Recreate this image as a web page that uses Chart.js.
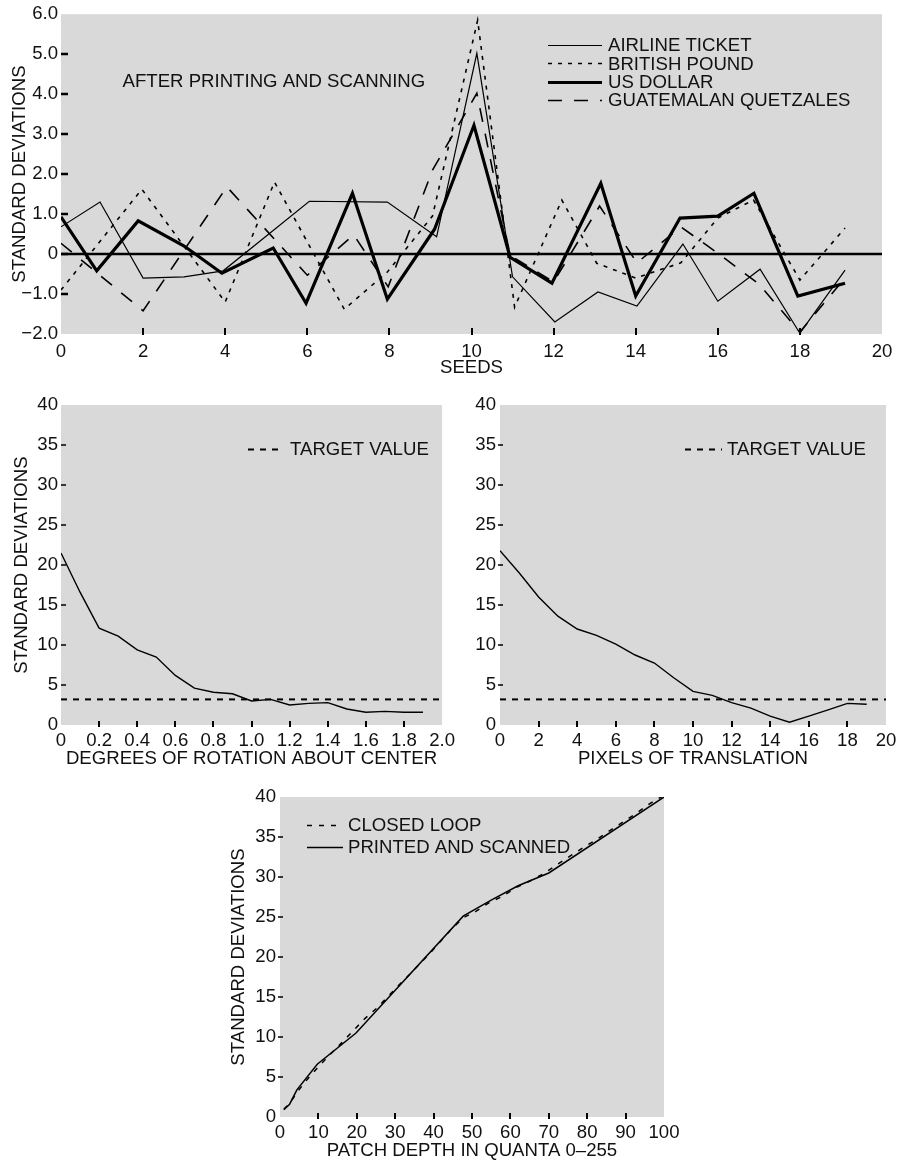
<!DOCTYPE html>
<html>
<head>
<meta charset="utf-8">
<script src="https://cdn.jsdelivr.net/npm/chart.js@4.4.1/dist/chart.umd.min.js"></script>
<style>
  html, body { margin: 0; padding: 0; background: #fff; }
  body { position: relative; width: 903px; height: 1165px; overflow: hidden; }
  canvas { position: absolute; }
</style>
</head>
<body>
<canvas id="seedsChart" width="903" height="380" style="left:0;top:0"></canvas>
<canvas id="rotationChart" width="460" height="390" style="left:0;top:380px"></canvas>
<canvas id="translationChart" width="453" height="390" style="left:450px;top:380px"></canvas>
<canvas id="depthChart" width="500" height="395" style="left:200px;top:770px"></canvas>
<script>
// ---- top chart: seeds, [seed, std dev]
const airlineTicket = [[0,0.68],[0.95,1.3],[2.0,-0.6],[3.0,-0.57],[3.95,-0.42],[6.05,1.32],[7.95,1.3],[9.15,0.43],[10.13,5.02],[11.0,-0.57],[12.03,-1.7],[13.08,-0.95],[14.03,-1.3],[15.15,0.25],[16.0,-1.18],[17.03,-0.38],[18.0,-1.98],[19.1,-0.4]];
const britishPound = [[0,-0.9],[1.97,1.62],[4.0,-1.2],[5.2,1.8],[6.9,-1.38],[7.95,-0.45],[9.05,0.95],[10.15,5.85],[11.05,-1.33],[12.2,1.35],[13.05,-0.23],[14.0,-0.6],[15.1,-0.22],[16.0,0.9],[16.87,1.35],[18.0,-0.65],[19.1,0.65]];
const usDollar = [[0,0.93],[0.87,-0.42],[1.88,0.83],[3.0,0.2],[3.92,-0.48],[5.17,0.15],[5.97,-1.23],[7.1,1.52],[7.95,-1.13],[9.1,0.62],[10.06,3.22],[10.94,-0.08],[11.96,-0.73],[13.15,1.77],[14.0,-1.05],[15.08,0.9],[16.0,0.95],[16.88,1.52],[17.95,-1.05],[19.1,-0.73]];
const guatemalan = [[0,0.27],[2.0,-1.42],[4.04,1.68],[6.0,-0.53],[7.13,0.48],[7.97,-0.82],[9.05,2.1],[10.13,4.02],[10.94,-0.03],[12.0,-0.7],[13.12,1.2],[14.03,-0.22],[15.1,0.68],[16.0,0.02],[17.0,-0.75],[18.0,-1.95],[19.1,-0.6]];
const zeroLine = [[0,0],[20,0]];

// ---- middle charts
const rotationDegrees = [0,0.1,0.2,0.3,0.4,0.5,0.6,0.7,0.8,0.9,1.0,1.1,1.2,1.3,1.4,1.5,1.6,1.7,1.8,1.9];
const rotationStd = [21.5,16.6,12.1,11.1,9.4,8.5,6.2,4.6,4.1,3.9,3.0,3.2,2.5,2.7,2.8,2.0,1.6,1.7,1.6,1.6];
const translationPixels = [0,1,2,3,4,5,6,7,8,9,10,11,12,13,14,15,16,17,18,19];
const translationStd = [21.8,19.0,16.0,13.6,12.0,11.2,10.1,8.75,7.75,5.9,4.2,3.7,2.8,2.1,1.1,0.35,1.1,1.9,2.7,2.6];
const targetValue = 3.2;

// ---- bottom chart: [patch depth, std dev]
const closedLoop = [[1,1.0],[2.4,1.6],[4.6,3.2],[7.1,4.7],[9.5,6.0],[12.6,7.6],[16.1,9.3],[19.1,10.8],[22.1,12.3],[25.2,13.6],[28.0,15.0],[30.8,16.4],[33.7,17.8],[39.1,20.5],[41.7,21.9],[44.7,23.5],[47.7,24.9],[51.0,25.7],[54.5,26.8],[58.0,27.6],[61.5,28.7],[65.1,29.5],[68.6,30.4],[72.0,31.5],[75.5,32.6],[79.0,33.7],[82.5,34.7],[85.9,35.8],[89.4,36.9],[92.9,38.0],[96.4,39.2],[100,40.2]];
const printedScanned = [[1,0.9],[2.5,1.6],[4.4,3.4],[9.7,6.6],[19.8,10.5],[47.7,25.1],[55,27.1],[62,28.9],[70,30.5],[100,40]];

const FONT = '"Liberation Sans", Arial, Helvetica, sans-serif';
const FONT_SIZE = 18.6;
const INK = '#111';
Chart.defaults.font.family = FONT;
Chart.defaults.font.size = FONT_SIZE;
Chart.defaults.color = INK;

const toXY = pairs => pairs.map(p => ({x: p[0], y: p[1]}));
const zip = (xs, ys) => xs.map((x, i) => ({x: x, y: ys[i]}));
const flat = (xs, v) => [{x: xs[0], y: v}, {x: xs[1], y: v}];

function fmtSigned(v) {
    if (v === 0) return '0';
    return (v < 0 ? '\u2212' : '') + Math.abs(v).toFixed(1);
}

function lineSet(label, data, width, dash) {
    return {
        label: label, data: data,
        borderColor: '#000', borderWidth: width, borderDash: dash || [],
        borderCapStyle: 'butt', borderJoinStyle: 'miter',
        pointRadius: 0, tension: 0, fill: false
    };
}

// grey panel, inward ticks, hand-placed legend and note
const panelPlugin = {
    id: 'panel',
    beforeDraw(chart) {
        const {ctx, chartArea: a} = chart;
        ctx.save();
        ctx.fillStyle = '#d9d9d9';
        ctx.fillRect(a.left, a.top, a.width, a.height);
        ctx.restore();
    },
    afterDatasetsDraw(chart, args, opts) {
        const {ctx, chartArea: a} = chart;
        const xs = chart.scales.x, ys = chart.scales.y;
        ctx.save();
        ctx.strokeStyle = '#000';
        ctx.setLineDash([]);
        // x ticks
        ctx.lineWidth = opts.xTickWidth;
        ctx.beginPath();
        xs.ticks.forEach(t => {
            if (t.value <= xs.min + 1e-9 || t.value >= xs.max - 1e-9) return;
            const p = Math.round(xs.getPixelForValue(t.value));
            ctx.moveTo(p, a.bottom + opts.xTickOut);
            ctx.lineTo(p, a.bottom - opts.xTickIn);
        });
        ctx.stroke();
        // y ticks
        ctx.lineWidth = opts.yTickWidth;
        ctx.beginPath();
        ys.ticks.forEach(t => {
            if (t.value <= ys.min + 1e-9 || t.value >= ys.max - 1e-9) return;
            const p = Math.round(ys.getPixelForValue(t.value));
            ctx.moveTo(a.left - opts.yTickOut, p);
            ctx.lineTo(a.left + opts.yTickIn, p);
        });
        ctx.stroke();

        // legend
        const lg = opts.legend;
        if (lg) {
            ctx.font = FONT_SIZE + 'px ' + FONT;
            ctx.textBaseline = 'middle';
            ctx.textAlign = 'left';
            lg.items.forEach((idx, row) => {
                const ds = chart.data.datasets[idx];
                const y = a.top + lg.dy + row * lg.gap;
                const x0 = a.left + lg.dx;
                ctx.lineWidth = ds.borderWidth;
                ctx.setLineDash(ds.borderDash || []);
                ctx.beginPath();
                ctx.moveTo(x0, Math.round(y) + 0.5);
                ctx.lineTo(x0 + lg.len, Math.round(y) + 0.5);
                ctx.stroke();
                ctx.setLineDash([]);
                ctx.fillStyle = INK;
                ctx.fillText(ds.label, x0 + lg.len + lg.textGap, y + 1);
            });
        }
        // free text note
        if (opts.note) {
            ctx.font = FONT_SIZE + 'px ' + FONT;
            ctx.textBaseline = 'middle';
            ctx.textAlign = 'left';
            ctx.fillStyle = INK;
            ctx.fillText(opts.note.text, xs.getPixelForValue(opts.note.x), ys.getPixelForValue(opts.note.y));
        }
        ctx.restore();
    }
};

function axisX(min, max, step, title, height, fmt, tickPad, titlePadBottom) {
    return {
        type: 'linear', min: min, max: max,
        ticks: { stepSize: step, padding: tickPad, autoSkip: false, maxRotation: 0, color: INK,
                 callback: fmt },
        grid: { display: false, drawTicks: false },
        border: { display: false },
        title: { display: true, text: title, color: INK, padding: {top: 0, bottom: titlePadBottom} },
        afterFit(s) { s.height = height; }
    };
}

function axisY(min, max, step, title, width, fmt, tickPad, titlePadTop) {
    return {
        type: 'linear', min: min, max: max,
        ticks: { stepSize: step, padding: tickPad, autoSkip: false, color: INK, callback: fmt },
        grid: { display: false, drawTicks: false },
        border: { display: false },
        title: { display: !!title, text: title, color: INK, padding: {top: titlePadTop, bottom: 0} },
        afterFit(s) { s.width = width; }
    };
}

const baseOptions = (padTop, padRight) => ({
    responsive: false,
    animation: false,
    events: [],
    layout: { padding: { top: padTop, right: padRight, left: 0, bottom: 0 } },
    plugins: { legend: { display: false }, tooltip: { enabled: false } }
});

// ---- chart 1: seeds
const opt1 = baseOptions(14, 21);
opt1.scales = {
    x: axisX(0, 20, 2, 'SEEDS', 46, v => String(v), 7, 1),
    y: axisY(-2, 6, 1, 'STANDARD DEVIATIONS', 61, v => fmtSigned(v), 3, 9)
};
opt1.plugins.panel = {
    xTickWidth: 2, xTickOut: 1, xTickIn: 6, yTickWidth: 2.5, yTickOut: 0, yTickIn: 7,
    legend: { items: [0, 1, 2, 3], dx: 487, dy: 31, gap: 18.3, len: 54, textGap: 6 },
    note: { text: 'AFTER PRINTING AND SCANNING', x: 1.5, y: 4.3 }
};
new Chart(document.getElementById('seedsChart'), {
    type: 'line',
    data: { datasets: [
        lineSet('AIRLINE TICKET', toXY(airlineTicket), 1.2),
        lineSet('BRITISH POUND', toXY(britishPound), 1.6, [4, 6]),
        lineSet('US DOLLAR', toXY(usDollar), 3.2),
        lineSet('GUATEMALAN QUETZALES', toXY(guatemalan), 1.6, [14, 12]),
        lineSet('zero', toXY(zeroLine), 2.5)
    ]},
    options: opt1,
    plugins: [panelPlugin]
});

// ---- chart 2: rotation
const opt2 = baseOptions(25, 15);
opt2.scales = {
    x: axisX(0, 2, 0.2, 'DEGREES OF ROTATION ABOUT CENTER', 45, v => v === 0 ? '0' : v.toFixed(1), 5, 0),
    y: axisY(0, 40, 5, 'STANDARD DEVIATIONS', 61, v => String(v), 3, 11)
};
opt2.plugins.panel = {
    xTickWidth: 2, xTickOut: 2, xTickIn: 4, yTickWidth: 1.5, yTickOut: 0, yTickIn: 5,
    legend: { items: [1], dx: 187, dy: 44, gap: 0, len: 36, textGap: 6 }
};
new Chart(document.getElementById('rotationChart'), {
    type: 'line',
    data: { datasets: [
        lineSet('rotation', zip(rotationDegrees, rotationStd), 1.4),
        lineSet('TARGET VALUE', flat([0, 2], targetValue), 2, [6, 6])
    ]},
    options: opt2,
    plugins: [panelPlugin]
});

// ---- chart 3: translation
const opt3 = baseOptions(25, 17);
opt3.scales = {
    x: axisX(0, 20, 2, 'PIXELS OF TRANSLATION', 45, v => String(v), 5, 0),
    y: axisY(0, 40, 5, '', 50, v => String(v), 4, 0)
};
opt3.plugins.panel = {
    xTickWidth: 2, xTickOut: 2, xTickIn: 4, yTickWidth: 1.5, yTickOut: 2, yTickIn: 3,
    legend: { items: [1], dx: 185, dy: 44, gap: 0, len: 37, textGap: 5 }
};
new Chart(document.getElementById('translationChart'), {
    type: 'line',
    data: { datasets: [
        lineSet('translation', zip(translationPixels, translationStd), 1.4),
        lineSet('TARGET VALUE', flat([0, 20], targetValue), 2, [6, 6])
    ]},
    options: opt3,
    plugins: [panelPlugin]
});

// ---- chart 4: patch depth
const opt4 = baseOptions(27, 36);
opt4.scales = {
    x: axisX(0, 100, 10, 'PATCH DEPTH IN QUANTA 0\u2013255', 48, v => String(v), 5, 3),
    y: axisY(0, 40, 5, 'STANDARD DEVIATIONS', 80, v => String(v), 4, 28)
};
opt4.plugins.panel = {
    xTickWidth: 2, xTickOut: 2, xTickIn: 4, yTickWidth: 1.5, yTickOut: 2, yTickIn: 3,
    legend: { items: [0, 1], dx: 27, dy: 28, gap: 22, len: 36, textGap: 5 }
};
new Chart(document.getElementById('depthChart'), {
    type: 'line',
    data: { datasets: [
        lineSet('CLOSED LOOP', toXY(closedLoop), 1.5, [5, 7]),
        lineSet('PRINTED AND SCANNED', toXY(printedScanned), 1.5)
    ]},
    options: opt4,
    plugins: [panelPlugin]
});
</script>
</body>
</html>
